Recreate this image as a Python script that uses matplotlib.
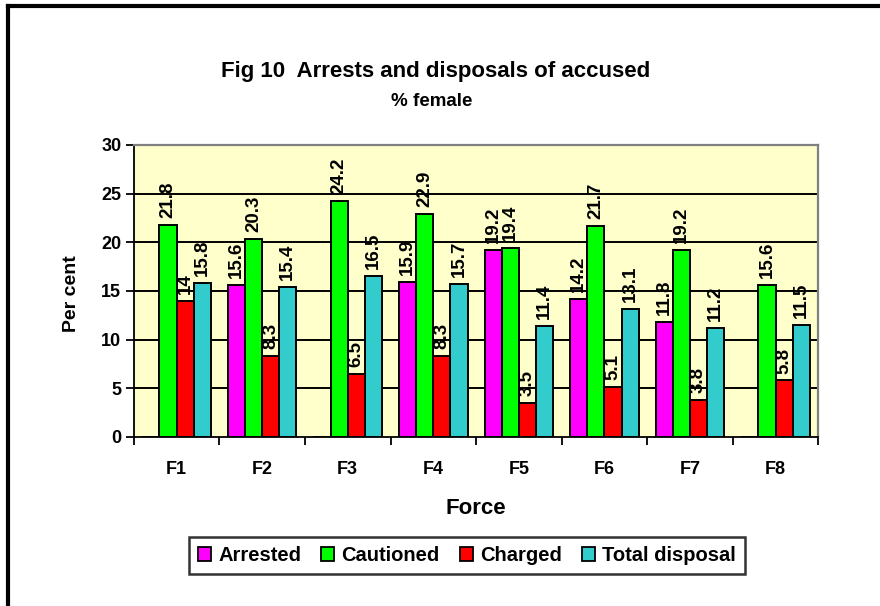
import matplotlib.pyplot as plt
import numpy as np

plt.rcParams['font.family'] = ['Liberation Sans', 'DejaVu Sans']
plt.rcParams['font.weight'] = 'bold'

forces = ['F1', 'F2', 'F3', 'F4', 'F5', 'F6', 'F7', 'F8']
arrested = [np.nan, 15.6, np.nan, 15.9, 19.2, 14.2, 11.8, np.nan]
cautioned = [21.8, 20.3, 24.2, 22.9, 19.4, 21.7, 19.2, 15.6]
charged = [14, 8.3, 6.5, 8.3, 3.5, 5.1, 3.8, 5.8]
total_disposal = [15.8, 15.4, 16.5, 15.7, 11.4, 13.1, 11.2, 11.5]

series = [('Arrested', arrested, '#FF00FF'),
          ('Cautioned', cautioned, '#00FF00'),
          ('Charged', charged, '#FF0000'),
          ('Total disposal', total_disposal, '#33CCCC')]


def fmt(v):
    return '%g' % v


fig = plt.figure(figsize=(8.8, 6.06), dpi=100)
ax = fig.add_axes([0.152, 0.279, 0.778, 0.482])
ax.set_facecolor('#FFFFCC')

x = np.arange(len(forces))
width = 0.2
for i, (name, vals, color) in enumerate(series):
    pos = x + (i - 1.5) * width
    vals = np.array(vals, dtype=float)
    ax.bar(pos, np.nan_to_num(vals), width, color=color, edgecolor='black',
           linewidth=1.4, label=name, zorder=3)
    for p, v in zip(pos, vals):
        if np.isnan(v):
            continue
        ax.annotate(fmt(v), (p, v), xytext=(0, 5), textcoords='offset points',
                    rotation=90, ha='center', va='bottom', fontsize=13.5,
                    fontweight='bold', zorder=5)

ax.set_xlim(-0.5, len(forces) - 0.5)
ax.set_ylim(0, 30)
ax.set_yticks(np.arange(0, 31, 5))
for yv in range(5, 30, 5):
    ax.axhline(yv, color='black', linewidth=1.4, zorder=1)

ax.set_xticks(x)
ax.set_xticklabels(forces, fontsize=13, fontweight='bold')
ax.set_xticks(np.arange(-0.5, len(forces)), minor=True)
ax.tick_params(axis='x', which='major', length=0, pad=17)
ax.tick_params(axis='x', which='minor', length=6, width=1.3, direction='out')
ax.tick_params(axis='y', length=6, width=1.3, direction='out', labelsize=13, pad=3)
for lab in ax.get_yticklabels():
    lab.set_fontweight('bold')

for side in ['left', 'bottom']:
    ax.spines[side].set_color('black')
    ax.spines[side].set_linewidth(1.3)
for side in ['top', 'right']:
    ax.spines[side].set_color('#808080')
    ax.spines[side].set_linewidth(1.6)

fig.text(0.541, 1 - 509 / 606, 'Force', ha='center', va='center',
         fontsize=16, fontweight='bold')
fig.text(71 / 880, 1 - 294 / 606, 'Per cent', ha='center', va='center',
         rotation=90, fontsize=14, fontweight='bold')

fig.text(0.495, 1 - 72 / 606, 'Fig 10  Arrests and disposals of accused',
         ha='center', va='center', fontsize=16, fontweight='bold')
fig.text(0.49, 1 - 101 / 606, '% female', ha='center', va='center',
         fontsize=13.5, fontweight='bold')

leg = fig.legend(loc='center', bbox_to_anchor=(467 / 880, 1 - 555.5 / 606),
                 ncol=4, frameon=True, fancybox=False, edgecolor='black',
                 handlelength=0.65, handleheight=0.75, handletextpad=0.35,
                 columnspacing=1.0, borderpad=0.45, borderaxespad=0,
                 prop={'weight': 'bold', 'size': 14.5})
leg.get_frame().set_linewidth(1.8)
for h in leg.legend_handles:
    h.set_linewidth(1.3)

# outer chart frame (only left/top edges show in the crop)
fig.add_artist(plt.Line2D([8 / 880, 8 / 880], [0, 1 - 5.5 / 606], color='black',
                          linewidth=3, transform=fig.transFigure))
fig.add_artist(plt.Line2D([8 / 880, 1.0], [1 - 5.5 / 606, 1 - 5.5 / 606],
                          color='black', linewidth=3, transform=fig.transFigure))

fig.savefig('out.png', dpi=100)
